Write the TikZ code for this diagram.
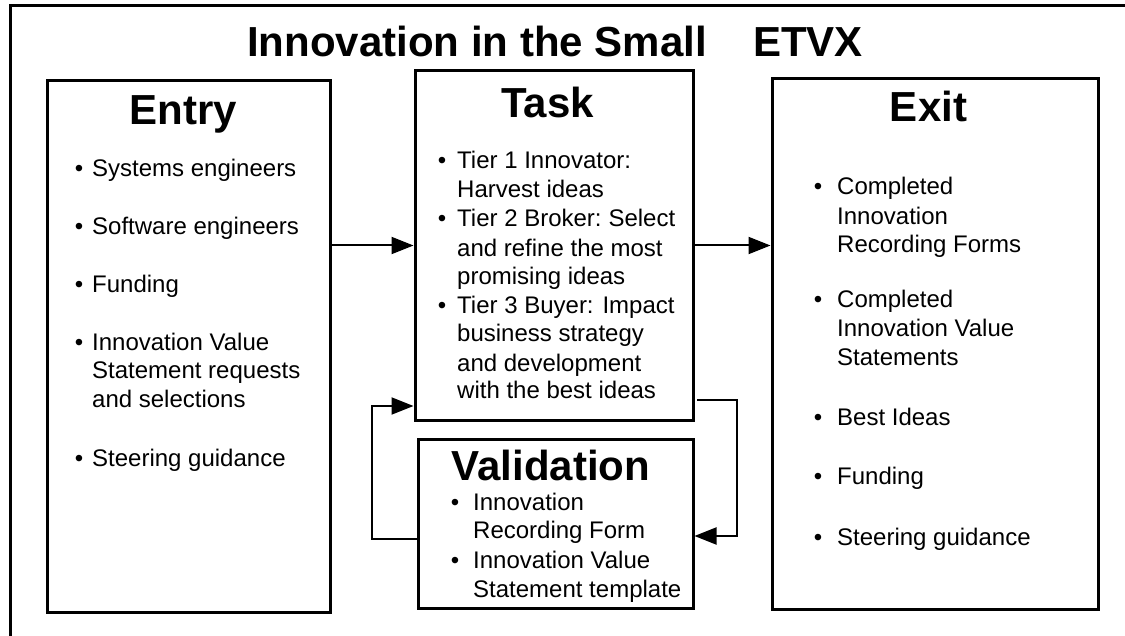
\documentclass[tikz,border=0pt]{standalone}
\usepackage{fontspec}
\setmainfont{Liberation Sans}
\usetikzlibrary{arrows.meta}
\tikzset{
  box/.style={draw, line width=3pt, rectangle, inner sep=0pt},
  head/.style={font=\fontsize{42}{48}\selectfont\bfseries, inner sep=0pt, anchor=base},
  txt/.style={font=\fontsize{24}{28.7}\selectfont, inner sep=0pt, anchor=base west},
  bul/.style={font=\fontsize{24}{28.7}\selectfont, inner sep=0pt, anchor=base},
  arr/.style={line width=2pt, -{Triangle[length=22pt,width=17pt]}},
  frame/.style={line width=3pt}
}
\begin{document}
\begin{tikzpicture}[x=1pt,y=-1pt]
\useasboundingbox (0,0) rectangle (1125,636);
% outer frame
\coordinate (f1) at (10,640);
\coordinate (f2) at (10,6);
\coordinate (f3) at (1130,6);
\draw[frame] (f1) -- (f2) -- (f3);
% title
\node[head] (title) at (555,57) {Innovation in the Small\hspace{46pt}ETVX};
% boxes
\node[box, minimum width=283pt, minimum height=531pt] (entry) at (188.5,346.5) {};
\node[box, minimum width=278pt, minimum height=349pt] (task) at (554,245.5) {};
\node[box, minimum width=275pt, minimum height=169pt] (valid) at (555.5,523.5) {};
\node[box, minimum width=326pt, minimum height=530pt] (exit) at (935,344) {};
% headings
\node[head] (hentry) at (183.5,125) {Entry};
\node[head] (htask) at (547.5,118) {Task};
\node[head] (hvalid) at (551,480) {Validation};
\node[head] (hexit) at (928.5,122) {Exit};
% Entry bullets
\node[bul] (eb1) at (79,177) {•};
\node[txt] (e1) at (92,177) {Systems engineers};
\node[bul] (eb2) at (79,235) {•};
\node[txt] (e2) at (92,235) {Software engineers};
\node[bul] (eb3) at (79,293) {•};
\node[txt] (e3) at (92,293) {Funding};
\node[bul] (eb4) at (79,351) {•};
\node[txt] (e4a) at (92,351) {Innovation Value};
\node[txt] (e4b) at (92,379) {Statement requests};
\node[txt] (e4c) at (92,407) {and selections};
\node[bul] (eb5) at (79,466) {•};
\node[txt] (e5) at (92,466) {Steering guidance};
% Task bullets
\node[bul] (tb1) at (442,169) {•};
\node[txt] (t1a) at (457,169) {Tier 1 Innovator:};
\node[txt] (t1b) at (457,198) {Harvest ideas};
\node[bul] (tb2) at (442,227) {•};
\node[txt] (t2a) at (457,227) {Tier 2 Broker:\hspace{-2pt} Select};
\node[txt] (t2b) at (457,257) {and refine the most};
\node[txt] (t2c) at (457,285) {promising ideas};
\node[bul] (tb3) at (442,314) {•};
\node[txt] (t3a) at (457,314) {Tier 3 Buyer: Impact};
\node[txt] (t3b) at (457,342) {business strategy};
\node[txt] (t3c) at (457,371) {and development};
\node[txt] (t3d) at (457,399) {with the best ideas};
% Validation bullets
\node[bul] (vb1) at (455,510) {•};
\node[txt] (v1a) at (473,510) {Innovation};
\node[txt] (v1b) at (473,538) {Recording Form};
\node[bul] (vb2) at (455,568) {•};
\node[txt] (v2a) at (473,568) {Innovation Value};
\node[txt] (v2b) at (473,597) {Statement template};
% Exit bullets
\node[bul] (xb1) at (818,195) {•};
\node[txt] (x1a) at (837,195) {Completed};
\node[txt] (x1b) at (837,225) {Innovation};
\node[txt] (x1c) at (837,253) {Recording Forms};
\node[bul] (xb2) at (818,308) {•};
\node[txt] (x2a) at (837,308) {Completed};
\node[txt] (x2b) at (837,337) {Innovation Value};
\node[txt] (x2c) at (837,366) {Statements};
\node[bul] (xb3) at (818,425) {•};
\node[txt] (x3) at (837,425) {Best Ideas};
\node[bul] (xb4) at (818,484) {•};
\node[txt] (x4) at (837,484) {Funding};
\node[bul] (xb5) at (818,545) {•};
\node[txt] (x5) at (837,545) {Steering guidance};
% main arrows
\draw[arr] (entry.east |- task.west) -- (task.west);
\draw[arr] (task.east) -- (task.east -| exit.west);
% right loop
\coordinate (r1) at (697,400);
\coordinate (r2) at (737,536);
\draw[arr] (r1) -| (r2) -- (valid.east |- r2);
% left loop
\coordinate (l1) at (372,539);
\coordinate (l2) at (372,406);
\draw[arr] (valid.west |- l1) -- (l1) -- (l2) -- (task.west |- l2);
\end{tikzpicture}
\end{document}
